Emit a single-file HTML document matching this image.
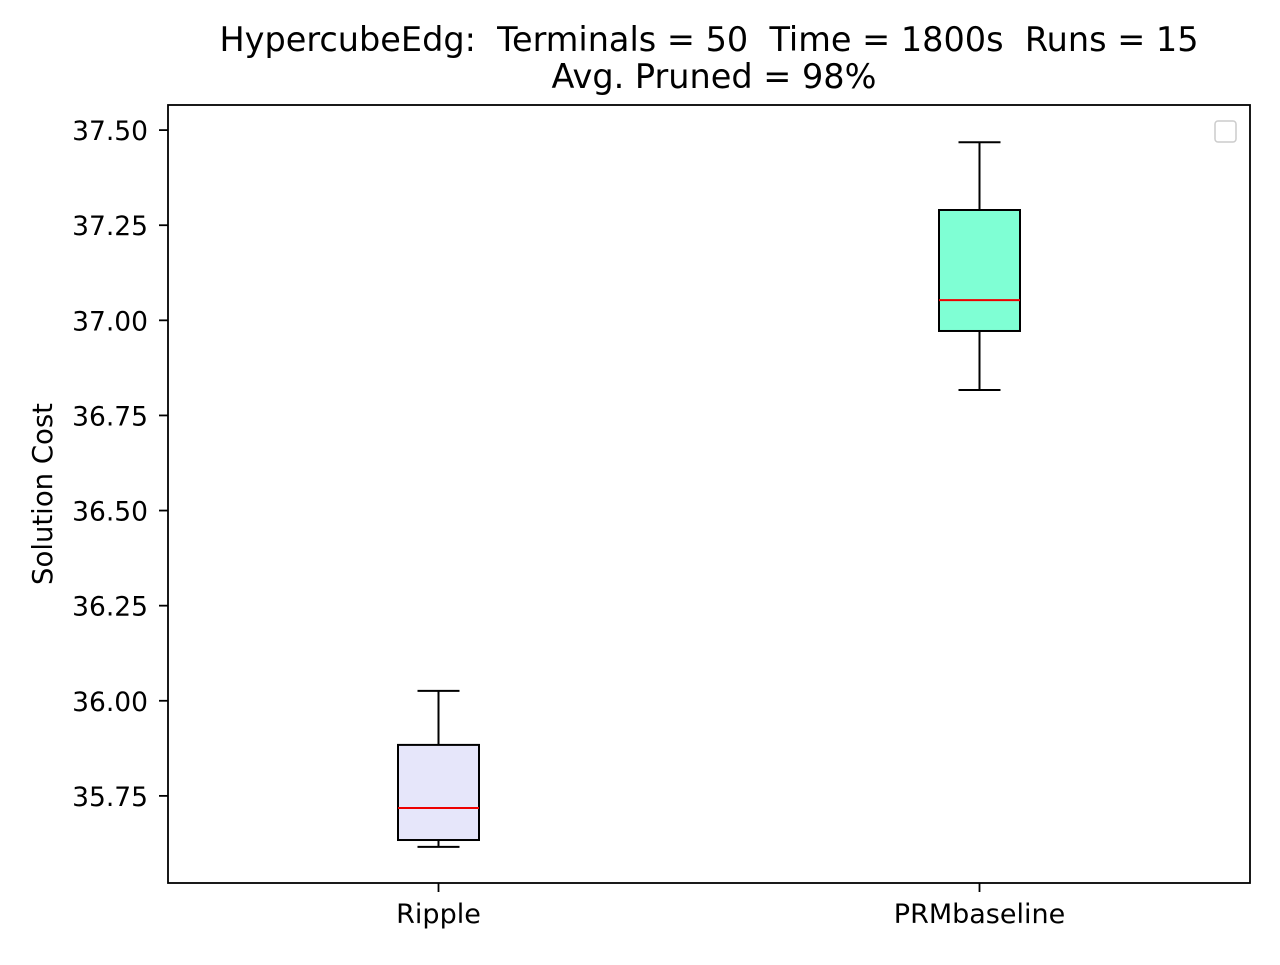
<!DOCTYPE html>
<html><head><meta charset="utf-8"><style>
body{margin:0;background:#fff;}
svg text{font-family:"DejaVu Sans","Liberation Sans",sans-serif;fill:#000;white-space:pre;}
</style></head><body>
<svg width="1280" height="960" xmlns="http://www.w3.org/2000/svg" id="chart">
<rect width="1280" height="960" fill="#fff"/>
<text x="709" y="51" font-size="33.5" text-anchor="middle">HypercubeEdg:  Terminals = 50  Time = 1800s  Runs = 15</text>
<text x="714" y="88" font-size="33.5" text-anchor="middle">Avg. Pruned = 98%</text>
<text transform="translate(52,494) rotate(-90)" font-size="27.5" text-anchor="middle">Solution Cost</text>
<g id="marks"></g>
<rect x="168" y="105" width="1082" height="778" fill="none" stroke="#000" stroke-width="1.8"/>
<rect x="1215" y="121" width="21" height="21" rx="3" fill="#fff" stroke="#ccc" stroke-width="1.5"/>
</svg>
<script>
const categories = ["Ripple", "PRMbaseline"];
const whiskerLow = [35.616, 36.817];
const q1Values = [35.634, 36.972];
const medians = [35.718, 37.053];
const q3Values = [35.884, 37.290];
const whiskerHigh = [36.026, 37.468];
const fills = ["#e6e6fa", "#7fffd4"];
const yTicks = [35.75, 36.00, 36.25, 36.50, 36.75, 37.00, 37.25, 37.50];

const NS = "http://www.w3.org/2000/svg";
const g = document.getElementById("marks");
const yMin = 35.521, yMax = 37.566, plotTop = 105, plotBot = 883, plotLeft = 168, plotRight = 1250;
function y(v){ return plotBot - (v - yMin) / (yMax - yMin) * (plotBot - plotTop); }
function x(i){ return plotLeft + (plotRight - plotLeft) * (0.25 + 0.5 * i); }
function mk(tag, attrs){ const e = document.createElementNS(NS, tag); for (const k in attrs) e.setAttribute(k, attrs[k]); g.appendChild(e); return e; }

yTicks.forEach(t => {
  const ln = mk("line", {x1: plotLeft - 9, x2: plotLeft, y1: y(t), y2: y(t), stroke: "#000", "stroke-width": 1.8});
  
  
  const tx = mk("text", {x: plotLeft - 20, y: y(t) + 10, "font-size": 26.5, "text-anchor": "end"});
  tx.textContent = t.toFixed(2);
  
  
});

categories.forEach((c, i) => {
  const cx = x(i), bw = 81, cw = 42;
  const l1 = mk("line", {x1: cx, x2: cx, y1: y(whiskerHigh[i]), y2: y(q3Values[i]), stroke: "#000", "stroke-width": 2});
  
  
  const l2 = mk("line", {x1: cx, x2: cx, y1: y(q1Values[i]), y2: y(whiskerLow[i]), stroke: "#000", "stroke-width": 2});
  
  
  const c1 = mk("line", {x1: cx - cw/2, x2: cx + cw/2, y1: y(whiskerHigh[i]), y2: y(whiskerHigh[i]), stroke: "#000", "stroke-width": 2});
  
  
  const c2 = mk("line", {x1: cx - cw/2, x2: cx + cw/2, y1: y(whiskerLow[i]), y2: y(whiskerLow[i]), stroke: "#000", "stroke-width": 2});
  
  
  const b = mk("rect", {x: cx - bw/2, y: y(q3Values[i]), width: bw, height: y(q1Values[i]) - y(q3Values[i]), fill: fills[i], stroke: "#000", "stroke-width": 2});
  
  
  const m = mk("line", {x1: cx - bw/2, x2: cx + bw/2, y1: y(medians[i]), y2: y(medians[i]), stroke: "#e00", "stroke-width": 2});
  
  
  const tk = mk("line", {x1: cx, x2: cx, y1: plotBot, y2: plotBot + 9, stroke: "#000", "stroke-width": 1.8});
  
  
  const lb = mk("text", {x: cx, y: plotBot + 40, "font-size": 27, "text-anchor": "middle"});
  lb.textContent = c;
  
  
});
</script>
</body></html>
